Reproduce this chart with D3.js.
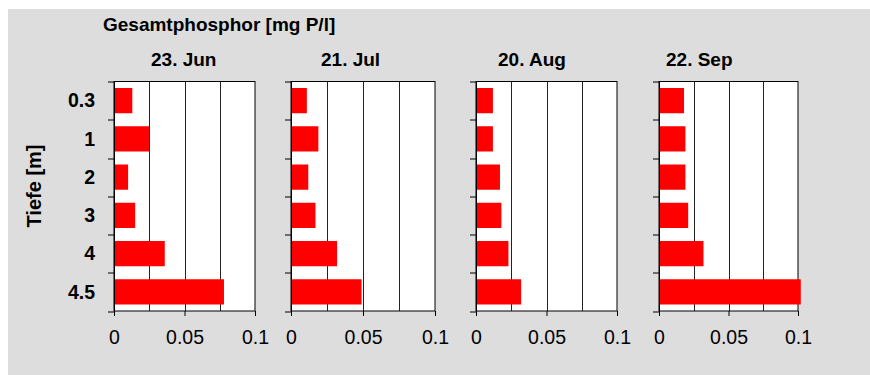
<!DOCTYPE html>
<html>
<head>
<meta charset="utf-8">
<script src="https://cdn.jsdelivr.net/npm/d3@7"></script>
<style>
  body { margin: 0; background: #fff; }
  svg { display: block; font-family: "Liberation Sans", Arial, sans-serif; }
  .frame { fill: #fff; stroke: #000; stroke-width: 1; }
  .grid { stroke: #222; stroke-width: 1; }
  .bar { fill: #ff0000; }
  .axis path, .axis line { stroke: #000; }
</style>
</head>
<body>
<svg id="chart" width="870" height="375"></svg>
<script>
// Daten
const depths = ['0.3', '1', '2', '3', '4', '4.5'];
const dates = ['23. Jun', '21. Jul', '20. Aug', '22. Sep'];
const junValues = [0.013, 0.025, 0.010, 0.015, 0.036, 0.078];
const julValues = [0.011, 0.019, 0.012, 0.017, 0.032, 0.049];
const augValues = [0.012, 0.012, 0.017, 0.018, 0.023, 0.032];
const sepValues = [0.018, 0.019, 0.019, 0.021, 0.032, 0.102];
const xTicks = [0, 0.05, 0.1];
const gridTicks = [0.025, 0.05, 0.075];

const series = [junValues, julValues, augValues, sepValues];

// Layout der Panels
const panelLeft = [114, 291, 476, 659];
const panelWidth = [141, 144, 141, 139];
const titleX = [151, 321, 498, 666];
const plotTop = 81.5, plotHeight = 229.5;

const svg = d3.select('#chart');

svg.append('rect')
  .attr('x', 8).attr('y', 9)
  .attr('width', 870).attr('height', 375)
  .attr('fill', '#dddddd');

svg.append('text')
  .attr('x', 103).attr('y', 31)
  .attr('font-size', 19)
  .attr('font-weight', 'bold')
  .text('Gesamtphosphor [mg P/l]');

svg.append('text')
  .attr('transform', 'translate(41,186) rotate(-90)')
  .attr('text-anchor', 'middle')
  .attr('font-size', 20)
  .attr('font-weight', 'bold')
  .text('Tiefe [m]');

const y = d3.scaleBand()
  .domain(depths)
  .range([0, plotHeight])
  .paddingInner(0.34)
  .paddingOuter(0.17);

series.forEach((values, i) => {
  const w = panelWidth[i];
  const g = svg.append('g').attr('transform', `translate(${panelLeft[i]},${plotTop})`);

  const x = d3.scaleLinear().domain([0, 0.1]).range([0, w]);

  g.append('text')
    .attr('x', titleX[i] - panelLeft[i]).attr('y', 66 - plotTop)
    .attr('font-size', 19)
    .attr('font-weight', 'bold')
    .text(dates[i]);

  g.append('rect')
    .attr('class', 'frame')
    .attr('x', 0).attr('y', 0)
    .attr('width', w).attr('height', plotHeight);

  g.selectAll('.grid')
    .data(gridTicks)
    .enter()
    .append('line')
    .attr('class', 'grid')
    .attr('x1', d => Math.round(x(d)) + 0.5)
    .attr('x2', d => Math.round(x(d)) + 0.5)
    .attr('y1', 0)
    .attr('y2', plotHeight);

  g.selectAll('.bar')
    .data(values)
    .enter()
    .append('rect')
    .attr('class', 'bar')
    .attr('x', 0)
    .attr('y', (d, j) => y(depths[j]))
    .attr('width', d => x(d))
    .attr('height', y.bandwidth());

  // X-Achse
  const xAxis = g.append('g')
    .attr('class', 'axis')
    .attr('transform', `translate(0,${plotHeight})`)
    .call(d3.axisBottom(x).tickValues(xTicks).tickSize(5).tickPadding(14).tickFormat(d3.format('')));
  xAxis.select('.domain').remove();
  xAxis.selectAll('text')
    .attr('fill', '#000')
    .attr('font-size', 19.5)
    .attr('font-family', '"Liberation Sans", Arial, sans-serif');

  // Y-Achse: Striche an den Klassengrenzen
  const bounds = d3.range(depths.length + 1).map(k => k * y.step());
  g.selectAll('.ytick')
    .data(bounds)
    .enter()
    .append('line')
    .attr('stroke', '#000')
    .attr('x1', -6).attr('x2', 0)
    .attr('y1', d => Math.round(d) + 0.5)
    .attr('y2', d => Math.round(d) + 0.5);
  g.append('line')
    .attr('stroke', '#000')
    .attr('x1', 0.5).attr('x2', 0.5)
    .attr('y1', 0).attr('y2', plotHeight);

  if (i === 0) {
    g.selectAll('.ylabel')
      .data(depths)
      .enter()
      .append('text')
      .attr('x', -19)
      .attr('y', d => y(d) + y.bandwidth() / 2)
      .attr('dy', '0.35em')
      .attr('text-anchor', 'end')
      .attr('font-size', 19.5)
      .attr('font-weight', 'bold')
      .text(d => d);
  }
});
</script>
</body>
</html>
